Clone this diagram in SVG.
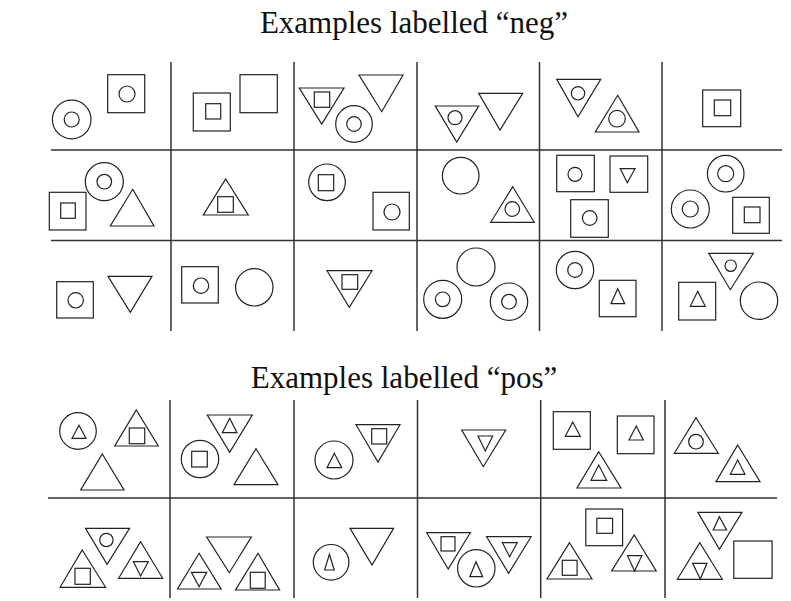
<svg xmlns="http://www.w3.org/2000/svg" width="791" height="601" viewBox="0 0 791 601">
<style>
.s{fill:none;stroke:#222;stroke-width:1.2}
.g{fill:none;stroke:#333;stroke-width:1.5}
.t{font-family:"Liberation Serif","Times New Roman",serif;font-size:31px;fill:#111;text-anchor:middle}
</style>
<rect width="791" height="601" fill="#fff"/>
<text class="t" x="414" y="33">Examples labelled “neg”</text>
<text class="t" x="404" y="388">Examples labelled “pos”</text>
<g id="grid">
<path class="g" d="M171,62V331M294,62V331M417,62V331M539.5,62V331M662,62V331M51,150H782M51,240.5H782"/>
<path class="g" d="M170,400V598M294,400V598M417.5,400V598M540.7,400V598M665,400V598M48,498H777"/>
</g>
<g id="n11" class="s">
<circle cx="71.7" cy="119.5" r="19.3"/><circle cx="71.7" cy="119.5" r="7.5"/>
<rect x="107.7" y="74.7" width="37" height="38"/><circle cx="127" cy="94" r="8"/>
</g>
<g id="n12" class="s">
<rect x="193.3" y="93" width="37" height="38"/><rect x="205.7" y="103.7" width="15" height="15.3"/>
<rect x="240" y="74.7" width="37.3" height="38"/>
</g>
<g id="n13" class="s">
<polygon points="299.3,88 344,88 321.7,124"/><rect x="314.3" y="92" width="15.4" height="15.3"/>
<polygon points="359,75 403,75 381.7,111.7"/>
<circle cx="354" cy="124" r="18.3"/><circle cx="354" cy="124" r="7.3"/>
</g>
<g id="n14" class="s">
<polygon points="435.3,106 478.7,106 456.7,142"/><circle cx="455" cy="117.7" r="7"/>
<polygon points="478.7,93.3 522.7,93.3 500,130"/>
</g>
<g id="n15" class="s">
<polygon points="556.7,79.3 600.7,79.3 578,116.7"/><circle cx="578" cy="93.3" r="6.7"/>
<polygon points="617.7,95.3 639,132 595.3,132"/><circle cx="617" cy="118.7" r="8.3"/>
</g>
<g id="n16" class="s">
<rect x="702.7" y="90" width="38" height="36.7"/><rect x="714.3" y="100" width="16.4" height="15.7"/>
</g>
<g id="n21" class="s">
<rect x="49.3" y="192.3" width="36.7" height="37.7"/><rect x="60.7" y="203" width="14.6" height="15.3"/>
<circle cx="104.3" cy="181.7" r="19"/><circle cx="104.3" cy="181.7" r="7.3"/>
<polygon points="132.7,189.3 154,226 110.3,226"/>
</g>
<g id="n22" class="s">
<polygon points="225.7,179 248.3,215 203.3,215"/><rect x="217.7" y="196.7" width="15.6" height="15.6"/>
</g>
<g id="n23" class="s">
<circle cx="327" cy="182.3" r="18.3"/><rect x="318.3" y="174.7" width="15.4" height="16"/>
<rect x="373" y="192.3" width="36.3" height="37.7"/><circle cx="392" cy="212" r="8"/>
</g>
<g id="n24" class="s">
<circle cx="460.7" cy="175.7" r="18.3"/>
<polygon points="512.7,186.7 534.3,222.3 490.7,222.3"/><circle cx="512.3" cy="209" r="7.3"/>
</g>
<g id="n25" class="s">
<rect x="556.7" y="155.3" width="37.6" height="36.4"/><circle cx="575" cy="174.3" r="7"/>
<rect x="610" y="156" width="37.7" height="36.3"/><polygon points="620.3,168.7 635,168.7 627.3,182.7"/>
<rect x="570.7" y="199.7" width="37.6" height="37.6"/><circle cx="589.7" cy="218" r="7.3"/>
</g>
<g id="n26" class="s">
<circle cx="725.7" cy="173.7" r="18.3"/><circle cx="725.7" cy="173.7" r="8"/>
<circle cx="690.3" cy="209" r="19"/><circle cx="690.3" cy="209" r="8"/>
<rect x="732.7" y="197.3" width="36.6" height="36"/><rect x="744.3" y="207" width="15.7" height="15.7"/>
</g>
<g id="n31" class="s">
<rect x="56.7" y="281.7" width="36.6" height="36.3"/><circle cx="75.7" cy="300.3" r="7.7"/>
<polygon points="108,276.3 152,276.3 130.3,312.3"/>
</g>
<g id="n32" class="s">
<rect x="181.7" y="266.7" width="36.6" height="36.3"/><circle cx="201" cy="285.7" r="7.7"/>
<circle cx="254.3" cy="287.3" r="18.7"/>
</g>
<g id="n33" class="s">
<polygon points="327,270.7 372,270.7 349.3,307.3"/><rect x="342" y="274.7" width="15.7" height="14.6"/>
</g>
<g id="n34" class="s">
<circle cx="476" cy="267" r="19"/>
<circle cx="442.7" cy="299.3" r="19"/><circle cx="442.7" cy="299.3" r="7.3"/>
<circle cx="509" cy="301.7" r="18.7"/><circle cx="509" cy="301.7" r="7.3"/>
</g>
<g id="n35" class="s">
<circle cx="575" cy="270" r="18.7"/><circle cx="575" cy="270" r="7.3"/>
<rect x="599.3" y="280.3" width="36.7" height="36.4"/><polygon points="617.7,288.7 624.7,303.7 611,303.7"/>
</g>
<g id="n36" class="s">
<polygon points="708.7,253.3 753.3,253.3 730.3,289.7"/><circle cx="730.7" cy="265.7" r="5.7"/>
<rect x="678.7" y="282.3" width="37" height="37.7"/><polygon points="697.7,291.3 705.3,306.3 690.3,306.3"/>
<circle cx="759" cy="300.7" r="18.7"/>
</g>
<g id="p11" class="s">
<circle cx="78" cy="431" r="18.3"/><polygon points="79,425.3 86,438.3 72,438.3"/>
<polygon points="136.3,410 158.3,446 114.7,446"/><rect x="129.3" y="428" width="15.4" height="15.7"/>
<polygon points="102.3,454 124,490 80.7,490"/>
</g>
<g id="p12" class="s">
<polygon points="207.3,415 252.3,415 229.7,452.3"/><polygon points="229.7,418.3 237,432.7 222.3,432.7"/>
<circle cx="200" cy="459" r="18.7"/><rect x="191.7" y="451.3" width="15.6" height="15.7"/>
<polygon points="256,448.7 278,484.7 234,484.7"/>
</g>
<g id="p13" class="s">
<circle cx="334" cy="460" r="19"/><polygon points="334.3,453.3 341.7,467.7 327,467.7"/>
<polygon points="356,424.7 400,424.7 378,462"/><rect x="371.7" y="428.7" width="15" height="15.3"/>
</g>
<g id="p14" class="s">
<polygon points="461.7,430 505.7,430 483.3,466.7"/><polygon points="478,436 492.7,436 485.3,451"/>
</g>
<g id="p15" class="s">
<rect x="553.3" y="411.7" width="37" height="37.6"/><polygon points="572.7,422 580.3,436.3 565.3,436.3"/>
<rect x="617.3" y="416" width="36.7" height="37.7"/><polygon points="636.3,426 643.3,440 629,440"/>
<polygon points="598.7,451.7 621,488 577,488"/><polygon points="598.7,465 606.7,480.3 591,480.3"/>
</g>
<g id="p16" class="s">
<polygon points="696,417.7 718.3,453.3 674.3,453.3"/><circle cx="696" cy="441.7" r="7.3"/>
<polygon points="737.7,445 760,481.7 716,481.7"/><polygon points="737.7,460 745,474.3 730.3,474.3"/>
</g>
<g id="p21" class="s">
<polygon points="85.5,528.3 129.6,528.3 107.1,564.3"/><circle cx="106.4" cy="540" r="6.7"/>
<polygon points="82.2,550 105.6,587.3 60.1,587.3"/><rect x="75" y="568.3" width="15.3" height="16"/>
<polygon points="140.6,541.7 162.7,578.3 118.6,578.3"/><polygon points="133.4,561.7 148.3,561.7 140.6,576"/>
</g>
<g id="p22" class="s">
<polygon points="206.7,537 251.3,537 229.3,572.7"/>
<polygon points="199.1,553.3 221.1,589 177.5,589"/><polygon points="191.4,572.3 206.7,572.3 199.1,586.7"/>
<polygon points="258,553.3 279.6,590 235.5,590"/><rect x="250.3" y="572.3" width="14.9" height="16"/>
</g>
<g id="p23" class="s">
<circle cx="331.1" cy="562.3" r="17.8"/><polygon points="329.4,554.3 334.2,570 324.6,570"/>
<polygon points="350,528.3 393.6,528.3 372,565"/>
</g>
<g id="p24" class="s">
<polygon points="426.7,532.7 470.3,532.7 448.2,569"/><rect x="441" y="536.7" width="14" height="14.3"/>
<circle cx="476.3" cy="568.3" r="18.7"/><polygon points="476,561.7 482.7,576.7 469.8,576.7"/>
<polygon points="486.6,536.7 531.1,536.7 508.6,573.3"/><polygon points="502.4,542.7 517.2,542.7 509.6,556.7"/>
</g>
<g id="p25" class="s">
<rect x="585.8" y="509" width="36.8" height="36.7"/><rect x="596.8" y="518.3" width="15.8" height="15"/>
<polygon points="569.5,542.7 592,579 547,579"/><rect x="562.3" y="560.3" width="14.8" height="15"/>
<polygon points="634.2,535 656.2,571 611.6,571"/><polygon points="627.5,555.7 641.8,555.7 634.6,571"/>
</g>
<g id="p26" class="s">
<polygon points="697.9,512.3 742,512.3 719.4,549.3"/><polygon points="719.4,516.7 726.6,530 713.2,530"/>
<polygon points="699.8,542.7 722.3,579.3 677.3,579.3"/><polygon points="692.6,563.3 707,563.3 700.3,579"/>
<rect x="733.8" y="541" width="38.3" height="37.3"/>
</g>
</svg>
